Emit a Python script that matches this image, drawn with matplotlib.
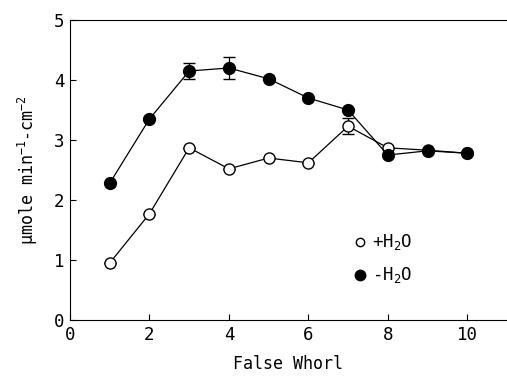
import numpy as np
import matplotlib
matplotlib.use('Agg')
import matplotlib.pyplot as plt

plt.rcParams['font.family'] = ['DejaVu Sans Mono']
plt.rcParams['mathtext.default'] = 'regular'

# False whorl number
whorl = [1, 2, 3, 4, 5, 6, 7, 8, 9, 10]

# -H2O (filled circles)
dry = [2.28, 3.35, 4.15, 4.20, 4.02, 3.70, 3.50, 2.75, 2.82, 2.78]
dry_err = [0, 0, 0.13, 0.18, 0, 0, 0, 0, 0, 0]

# +H2O (open circles)
wet = [0.95, 1.77, 2.87, 2.52, 2.70, 2.62, 3.23, 2.87, 2.83, 2.78]
wet_err = [0, 0, 0, 0, 0, 0, 0.13, 0, 0, 0]

fig = plt.figure(figsize=(5.07, 3.77), dpi=100)
ax = fig.add_axes([0.138, 0.151, 0.862, 0.796])

ax.errorbar(whorl, wet, yerr=wet_err, color='black', lw=0.9, marker='o',
            ms=8, mfc='white', mec='black', mew=1.0, capsize=4, elinewidth=0.9)
ax.errorbar(whorl, dry, yerr=dry_err, color='black', lw=0.9, marker='o',
            ms=8.5, mfc='black', mec='black', capsize=4, elinewidth=0.9)

# legend drawn as data-placed markers
ax.plot([7.3], [1.3], 'o', ms=6, mfc='white', mec='black')
ax.text(7.6, 1.3, '+H$_2$O', va='center', fontsize=12.5)
ax.plot([7.3], [0.75], 'o', ms=7.5, mfc='black', mec='black')
ax.text(7.6, 0.75, '-H$_2$O', va='center', fontsize=12.5)

ax.set_xlim(0, 11)
ax.set_ylim(0, 5)
ax.set_xticks([0, 2, 4, 6, 8, 10])
ax.set_yticks([0, 1, 2, 3, 4, 5])
ax.tick_params(direction='in', labelsize=12.5, length=4, width=0.8, pad=4)
ax.spines['right'].set_visible(False)
ax.set_xlabel('False Whorl', fontsize=12, labelpad=8)
ax.set_ylabel('$\\mu$mole min$^{-1}$-cm$^{-2}$', fontsize=12, labelpad=10)

plt.savefig('out.png', dpi=100)
